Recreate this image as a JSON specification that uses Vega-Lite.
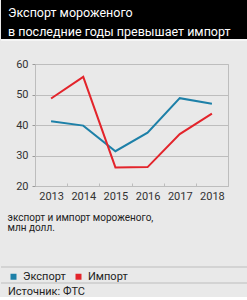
{
  "$schema": "https://vega.github.io/schema/vega-lite/v6.json",
  "background": "#e9e9e9",
  "padding": 0,
  "spacing": 0,
  "config": {
    "font": "Roboto",
    "view": {"stroke": null},
    "concat": {"spacing": 0}
  },
  "datasets": {
    "trade": [
      {"year": "2013", "series": "Экспорт", "value": 41.2},
      {"year": "2014", "series": "Экспорт", "value": 39.8},
      {"year": "2015", "series": "Экспорт", "value": 31.4},
      {"year": "2016", "series": "Экспорт", "value": 37.5},
      {"year": "2017", "series": "Экспорт", "value": 48.8},
      {"year": "2018", "series": "Экспорт", "value": 47.0},
      {"year": "2013", "series": "Импорт", "value": 48.7},
      {"year": "2014", "series": "Импорт", "value": 55.8},
      {"year": "2015", "series": "Импорт", "value": 26.1},
      {"year": "2016", "series": "Импорт", "value": 26.2},
      {"year": "2017", "series": "Импорт", "value": 37.0},
      {"year": "2018", "series": "Импорт", "value": 43.7}
    ],
    "heading": [
      {"n": 1, "line": "Экспорт мороженого"},
      {"n": 2, "line": "в последние годы превышает импорт"}
    ]
  },
  "vconcat": [
    {
      "width": 247,
      "height": 39,
      "view": {"fill": "#000000", "stroke": null},
      "data": {"name": "heading"},
      "mark": {"type": "text", "align": "left", "baseline": "middle", "dx": 7, "dy": 3, "color": "#ffffff", "fontSize": 12.5},
      "encoding": {
        "text": {"field": "line"},
        "x": {"datum": 0, "type": "quantitative", "scale": {"domain": [0, 1]}, "axis": null},
        "y": {"field": "n", "type": "ordinal", "scale": {"type": "point", "padding": 0.583}, "axis": null}
      }
    },
    {
      "width": 247,
      "height": 17,
      "data": {"values": [{}]},
      "mark": {"type": "rule", "color": "#f5f5f5", "strokeWidth": 2},
      "encoding": {
        "y": {"datum": 1, "type": "quantitative", "scale": {"domain": [0, 1]}, "axis": null}
      }
    },
    {
      "spacing": 0,
      "hconcat": [
        {
          "width": 1,
          "height": 1,
          "data": {"values": []},
          "mark": "point"
        },
        {
          "width": 193,
          "height": 122,
          "data": {"name": "trade"},
          "view": {"stroke": "#bdbdbd"},
          "mark": {"type": "line", "strokeWidth": 2},
          "encoding": {
            "x": {
              "field": "year",
              "type": "ordinal",
              "scale": {"type": "band", "paddingInner": 0, "paddingOuter": 0},
              "axis": {
                "title": ["экспорт и импорт мороженого,", "млн долл."],
                "titleX": -28,
                "titleAlign": "left",
                "titleFontSize": 10,
                "titleFontWeight": "normal",
                "titleColor": "#222222",
                "titleLineHeight": 10.5,
                "titlePadding": 11,
                "labelAngle": 0,
                "labelFontSize": 11,
                "labelColor": "#333333",
                "labelPadding": 7,
                "tickBand": "extent",
                "tickSize": -3,
                "tickColor": "#bdbdbd",
                "domain": false,
                "grid": false
              }
            },
            "y": {
              "field": "value",
              "type": "quantitative",
              "scale": {"domain": [20, 60], "nice": false, "zero": false},
              "axis": {
                "values": [20, 30, 40, 50, 60],
                "title": null,
                "labelFontSize": 11,
                "labelColor": "#333333",
                "labelPadding": 4,
                "tickSize": 3,
                "tickColor": "#999999",
                "domainColor": "#bdbdbd",
                "gridColor": "#bdbdbd",
                "minExtent": 32
              }
            },
            "color": {
              "field": "series",
              "type": "nominal",
              "scale": {"domain": ["Экспорт", "Импорт"], "range": ["#1d80a8", "#e3242b"]},
              "legend": {
                "orient": "none",
                "legendX": 7,
                "legendY": 271,
                "direction": "horizontal",
                "title": null,
                "symbolType": "square",
                "symbolSize": 36,
                "symbolStrokeWidth": 0,
                "labelFontSize": 11,
                "labelColor": "#222222",
                "labelOffset": 4,
                "columnPadding": 7,
                "encode": {
                  "symbols": {"update": {"fill": {"scale": "color", "field": "value"}, "opacity": {"value": 1}}}
                }
              }
            }
          }
        }
      ]
    },
    {
      "width": 247,
      "height": 33,
      "data": {"values": []},
      "mark": "point"
    },
    {
      "width": 247,
      "height": 16,
      "data": {"values": [{}]},
      "title": {
        "text": "Источник: ФТС",
        "orient": "bottom",
        "anchor": "start",
        "frame": "group",
        "offset": 2,
        "dx": 7,
        "color": "#222222",
        "fontSize": 11,
        "fontWeight": "normal"
      },
      "layer": [
        {
          "mark": {"type": "rule", "color": "#bdbdbd", "strokeWidth": 1},
          "encoding": {
            "y": {"datum": 1, "type": "quantitative", "scale": {"domain": [0, 1]}, "axis": null}
          }
        },
        {
          "mark": {"type": "rule", "color": "#bdbdbd", "strokeWidth": 1},
          "encoding": {
            "y": {"datum": 0, "type": "quantitative", "scale": {"domain": [0, 1]}, "axis": null}
          }
        }
      ]
    }
  ]
}
